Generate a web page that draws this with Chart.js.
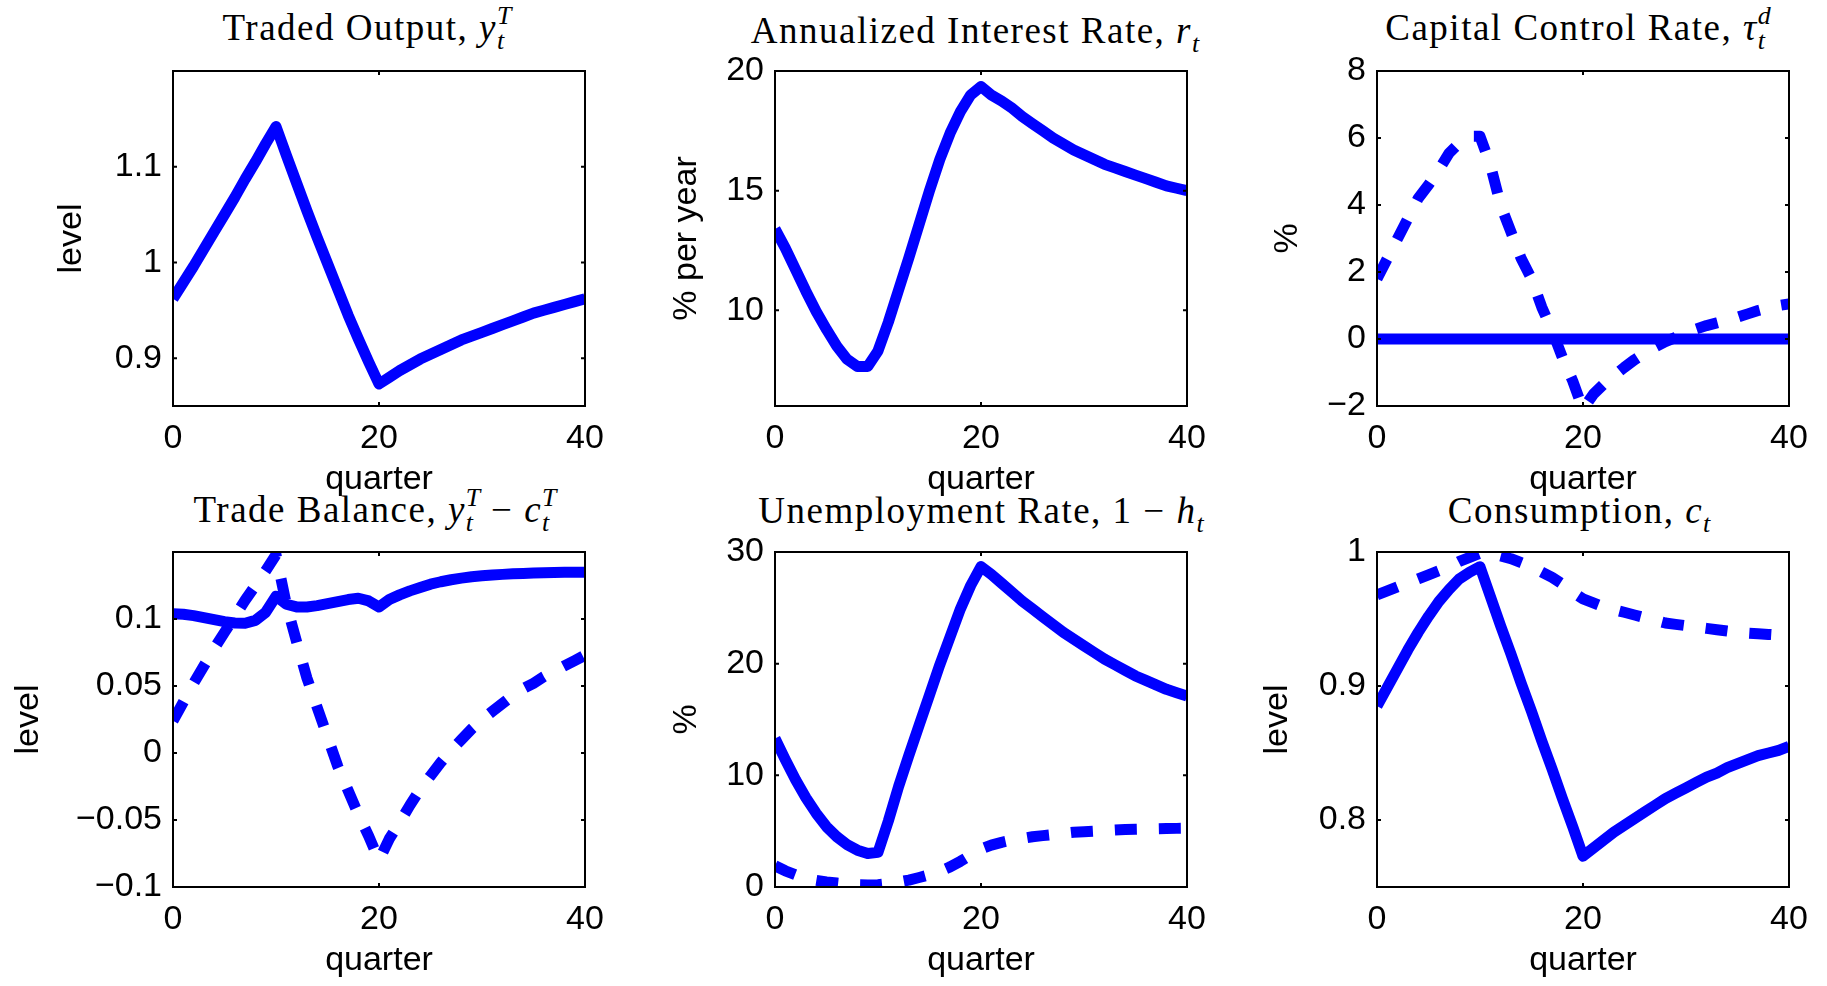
<!DOCTYPE html>
<html lang="en">
<head>
<meta charset="UTF-8">
<title>Impulse responses - capital controls</title>
<script src="https://cdn.jsdelivr.net/npm/chart.js"></script>
<style>
    html, body { margin: 0; padding: 0; background: #fff; }
    body { width: 1827px; height: 986px; position: relative; overflow: hidden; }
    canvas { position: absolute; }
    /* panel titles, LaTeX-like */
    .ttl {
        position: absolute; transform: translateX(-50%); white-space: nowrap;
        font-family: "Liberation Serif", "Times New Roman", serif;
        font-size: 37px; line-height: 37px; height: 37px; letter-spacing: 1.5px; color: #000;
    }
    .ttl i { font-style: italic; }
    .sub, .sup { font-size: 0.7em; font-style: italic; position: relative; letter-spacing: 0; line-height: 0; }
    .sub { top: 0.35em; }
    .sup { top: -0.62em; }
    .stk { margin-left: -0.278em; }
</style>
</head>
<body>
    <div class="ttl" style="left:367px; top:9px">Traded Output, <i>y</i><span class="sub">t</span><span class="sup stk">T</span></div>
    <div class="ttl" style="left:975px; top:12px">Annualized Interest Rate, <i>r</i><span class="sub">t</span></div>
    <div class="ttl" style="left:1578px; top:9px">Capital Control Rate, <i>τ</i><span class="sub">t</span><span class="sup stk">d</span></div>
    <div class="ttl" style="left:375px; top:491px">Trade Balance, <i>y</i><span class="sub">t</span><span class="sup stk">T</span> − <i>c</i><span class="sub">t</span><span class="sup stk">T</span></div>
    <div class="ttl" style="left:981px; top:492px">Unemployment Rate, 1 − <i>h</i><span class="sub">t</span></div>
    <div class="ttl" style="left:1579px; top:492px">Consumption, <i>c</i><span class="sub">t</span></div>

<script>
// quarters after the shock
const quarters = [0, 1, 2, 3, 4, 5, 6, 7, 8, 9, 10, 11, 12, 13, 14, 15, 16, 17, 18, 19, 20,
                  21, 22, 23, 24, 25, 26, 27, 28, 29, 30, 31, 32, 33, 34, 35, 36, 37, 38, 39, 40];
const xTicks = [0, 20, 40];

// Traded output, level
const tradedOutput = [0.962, 0.979, 0.996, 1.014, 1.032, 1.050, 1.068, 1.087, 1.105, 1.124, 1.142,
    1.112, 1.083, 1.054, 1.026, 0.999, 0.972, 0.945, 0.920, 0.896, 0.873,
    0.880, 0.887, 0.893, 0.899, 0.904, 0.909, 0.914, 0.919, 0.923, 0.927,
    0.931, 0.935, 0.939, 0.943, 0.947, 0.950, 0.953, 0.956, 0.959, 0.962];
const outputTicks = [0.9, 1, 1.1];

// Annualized interest rate, % per year
const interestRate = [13.4, 12.6, 11.7, 10.8, 9.95, 9.2, 8.5, 7.95, 7.65, 7.65, 8.3,
    9.5, 10.85, 12.2, 13.6, 15.0, 16.3, 17.4, 18.3, 19.0, 19.35,
    19.0, 18.75, 18.45, 18.1, 17.8, 17.5, 17.2, 16.95, 16.7, 16.5,
    16.3, 16.1, 15.95, 15.8, 15.65, 15.5, 15.35, 15.2, 15.1, 15.0];
const rateTicks = [10, 15, 20];

// Capital control rate, %
const controlSolid = [0, 0, 0, 0, 0, 0, 0, 0, 0, 0, 0,
    0, 0, 0, 0, 0, 0, 0, 0, 0, 0,
    0, 0, 0, 0, 0, 0, 0, 0, 0, 0,
    0, 0, 0, 0, 0, 0, 0, 0, 0, 0];
const controlDashed = [1.8, 2.4, 3.0, 3.6, 4.2, 4.6, 5.05, 5.55, 5.85, 6.05, 6.05,
    5.2, 4.0, 3.2, 2.4, 1.8, 0.95, 0.25, -0.55, -1.25, -2.1,
    -1.65, -1.35, -1.1, -0.85, -0.62, -0.42, -0.24, -0.08, 0.05, 0.2,
    0.3, 0.4, 0.48, 0.56, 0.65, 0.75, 0.85, 0.93, 1.0, 1.05];
const controlTicks = [-2, 0, 2, 4, 6, 8];

// Trade balance, level
const tbSolid = [0.104, 0.1035, 0.1025, 0.101, 0.0995, 0.098, 0.097, 0.0968, 0.099, 0.105, 0.117,
    0.111, 0.109, 0.109, 0.110, 0.1115, 0.113, 0.1145, 0.1155, 0.1135, 0.109,
    0.1145, 0.118, 0.121, 0.1235, 0.126, 0.1278, 0.1293, 0.1305, 0.1315, 0.1322,
    0.1328, 0.1333, 0.1337, 0.134, 0.1343, 0.1345, 0.1347, 0.1348, 0.1348, 0.1348];
const tbDashed = [0.024, 0.038, 0.052, 0.065, 0.078, 0.090, 0.102, 0.114, 0.125, 0.136, 0.148,
    0.111, 0.083, 0.056, 0.034, 0.012, -0.010, -0.028, -0.046, -0.062, -0.080,
    -0.064, -0.052, -0.039, -0.027, -0.017, -0.007, 0.002, 0.010, 0.018, 0.025,
    0.031, 0.037, 0.043, 0.048, 0.052, 0.057, 0.061, 0.065, 0.069, 0.073];
const tbTicks = [-0.1, -0.05, 0, 0.05, 0.1];

// Unemployment rate, %
const unempSolid = [13.3, 11.4, 9.6, 8.0, 6.6, 5.4, 4.5, 3.8, 3.3, 3.0, 3.1,
    5.9, 9.0, 11.8, 14.5, 17.2, 19.9, 22.4, 24.9, 27.0, 28.7,
    28.0, 27.2, 26.4, 25.6, 24.9, 24.2, 23.5, 22.8, 22.2, 21.6,
    21.0, 20.4, 19.9, 19.4, 18.9, 18.5, 18.1, 17.7, 17.4, 17.1];
const unempDashed = [1.9, 1.45, 1.1, 0.8, 0.6, 0.45, 0.35, 0.25, 0.2, 0.18, 0.2,
    0.3, 0.45, 0.62, 0.85, 1.1, 1.4, 1.8, 2.3, 2.85, 3.4,
    3.75, 4.0, 4.2, 4.35, 4.5, 4.6, 4.7, 4.8, 4.9, 4.95,
    5.0, 5.05, 5.1, 5.15, 5.18, 5.2, 5.22, 5.24, 5.25, 5.26];
const unempTicks = [0, 10, 20, 30];

// Consumption, level
const consSolid = [0.885, 0.899, 0.913, 0.927, 0.940, 0.952, 0.963, 0.972, 0.980, 0.985, 0.989,
    0.967, 0.945, 0.924, 0.902, 0.881, 0.859, 0.838, 0.816, 0.795, 0.773,
    0.779, 0.785, 0.791, 0.796, 0.801, 0.806, 0.811, 0.816, 0.820, 0.824,
    0.828, 0.832, 0.835, 0.839, 0.842, 0.845, 0.848, 0.850, 0.852, 0.855];
const consDashed = [0.968, 0.971, 0.974, 0.977, 0.980, 0.983, 0.986, 0.989, 0.993, 0.996, 0.999,
    0.998, 0.997, 0.995, 0.992, 0.989, 0.985, 0.981, 0.976, 0.970, 0.965,
    0.962, 0.959, 0.957, 0.955, 0.953, 0.951, 0.949, 0.947, 0.946, 0.945,
    0.944, 0.943, 0.942, 0.941, 0.940, 0.9395, 0.939, 0.9385, 0.938, 0.938];
const consTicks = [0.8, 0.9, 1];

const BLUE = '#0000ff';
const AXIS_FONT = { family: '"Liberation Sans", Arial, sans-serif', size: 34, lineHeight: 1 };

// matlab style minus sign
function fmt(v) {
    return v < 0 ? '\u2212' + String(-v) : String(v);
}

// black box round the axes with small inward ticks
const boxPlugin = {
    id: 'box',
    afterDatasetsDraw(chart) {
        const { ctx, chartArea: a, scales } = chart;
        ctx.save();
        ctx.strokeStyle = '#000';
        ctx.lineWidth = 2;
        ctx.beginPath();
        scales.x.ticks.forEach(t => {
            const px = scales.x.getPixelForValue(t.value);
            ctx.moveTo(px, a.bottom); ctx.lineTo(px, a.bottom - 4);
            ctx.moveTo(px, a.top); ctx.lineTo(px, a.top + 4);
        });
        scales.y.ticks.forEach(t => {
            const py = scales.y.getPixelForValue(t.value);
            ctx.moveTo(a.left, py); ctx.lineTo(a.left + 4, py);
            ctx.moveTo(a.right, py); ctx.lineTo(a.right - 4, py);
        });
        ctx.stroke();
        ctx.strokeRect(a.left, a.top, a.right - a.left, a.bottom - a.top);
        ctx.restore();
    }
};

function panel(box, yMin, yMax, yTicks, yTitle, yTitleGap, series) {
    const W = yTitleGap + 17;       // y axis width, puts the title centre at yTitleGap
    // padding wide enough that chart.js keeps the plot box where we put it
    const PAD_T = 34, PAD_R = 44, PAD_B = 10, H = 91;
    const cv = document.createElement('canvas');
    cv.width = W + box.w + PAD_R;
    cv.height = PAD_T + box.h + H + PAD_B;
    cv.style.left = (box.x - W) + 'px';
    cv.style.top = (box.y - PAD_T) + 'px';
    document.body.appendChild(cv);

    new Chart(cv, {
        type: 'line',
        data: {
            datasets: series.map(s => ({
                data: s.values.map((v, i) => ({ x: quarters[i], y: v })),
                borderColor: BLUE,
                borderWidth: 11,
                borderDash: s.dashed ? [22, 22] : [],
                borderCapStyle: 'butt',
                borderJoinStyle: 'round',
                pointRadius: 0,
                tension: 0,
                fill: false,
                clip: 0
            }))
        },
        options: {
            responsive: false,
            animation: false,
            events: [],
            layout: { padding: { top: PAD_T, right: PAD_R, bottom: PAD_B, left: 0 } },
            plugins: { legend: { display: false }, tooltip: { enabled: false } },
            scales: {
                x: {
                    type: 'linear', min: 0, max: 40,
                    grid: { display: false, drawTicks: false },
                    border: { display: false },
                    afterBuildTicks: s => { s.ticks = xTicks.map(v => ({ value: v })); },
                    afterFit: s => { s.height = H; },
                    ticks: { font: AXIS_FONT, color: '#000', padding: 16, maxRotation: 0, autoSkip: false,
                             callback: v => fmt(v) },
                    title: { display: true, text: 'quarter', font: AXIS_FONT, color: '#000', padding: 0 }
                },
                y: {
                    type: 'linear', min: yMin, max: yMax,
                    grid: { display: false, drawTicks: false },
                    border: { display: false },
                    afterBuildTicks: s => { s.ticks = yTicks.map(v => ({ value: v })); },
                    afterFit: s => { s.width = W; },
                    ticks: { font: AXIS_FONT, color: '#000', padding: 11, autoSkip: false,
                             callback: v => fmt(v) },
                    title: { display: true, text: yTitle, font: AXIS_FONT, color: '#000', padding: 0 }
                }
            }
        },
        plugins: [boxPlugin]
    });
}

panel({ x: 173, y: 71, w: 412, h: 335 }, 0.85, 1.2, outputTicks, 'level', 101,
      [{ values: tradedOutput }]);
panel({ x: 775, y: 71, w: 412, h: 335 }, 6, 20, rateTicks, '% per year', 88,
      [{ values: interestRate }]);
panel({ x: 1377, y: 71, w: 412, h: 335 }, -2, 8, controlTicks, '%', 89,
      [{ values: controlSolid }, { values: controlDashed, dashed: true }]);
panel({ x: 173, y: 552, w: 412, h: 335 }, -0.1, 0.15, tbTicks, 'level', 144,
      [{ values: tbSolid }, { values: tbDashed, dashed: true }]);
panel({ x: 775, y: 552, w: 412, h: 335 }, 0, 30, unempTicks, '%', 88,
      [{ values: unempSolid }, { values: unempDashed, dashed: true }]);
panel({ x: 1377, y: 552, w: 412, h: 335 }, 0.75, 1, consTicks, 'level', 99,
      [{ values: consSolid }, { values: consDashed, dashed: true }]);
</script>
</body>
</html>
